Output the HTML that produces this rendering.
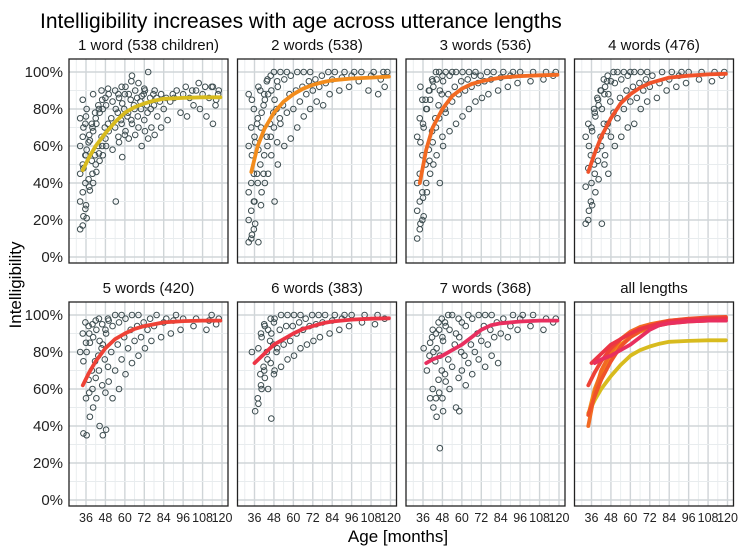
<!DOCTYPE html>
<html><head><meta charset="utf-8">
<style>
html,body{margin:0;padding:0;background:#fff;}
svg{display:block;font-family:"Liberation Sans",Arial,sans-serif;}
</style></head>
<body>
<svg id="chart" width="738" height="548" viewBox="0 0 738 548">
<text x="40" y="28" font-size="21" fill="#000">Intelligibility increases with age across utterance lengths</text>
<text transform="translate(21,285) rotate(-90)" text-anchor="middle" font-size="17">Intelligibility</text>
<text x="398" y="542" text-anchor="middle" font-size="17">Age [months]</text>
</svg>
<script>
const panelTitles = ["1 word (538 children)","2 words (538)","3 words (536)","4 words (476)","5 words (420)","6 words (383)","7 words (368)","all lengths"];
const curveColors = ["#d8bb1e","#f28c1c","#f26a22","#f0522a","#ee4236","#ec3545","#e82f5f"];
const xTicks = [36,48,60,72,84,96,108,120];
const yTicks = [0,20,40,60,80,100];
const yTickLabels = ["0%","20%","40%","60%","80%","100%"];
const curveAges = [
 [34,38,42,48,54,60,66,72,78,84,96,108,119],
 [34,38,42,48,54,60,66,72,78,84,96,108,119],
 [34,38,42,48,54,60,66,72,78,84,96,108,119],
 [34,38,42,48,54,60,66,72,78,84,96,108,119],
 [34,38,42,48,54,60,66,72,78,84,96,108,119],
 [36,42,48,54,60,66,72,78,84,96,108,119],
 [38,42,48,54,60,66,72,78,84,96,108,119]
];
const curveVals = [
 [47,54,60,67,73,78,81,83,84.5,85.5,86,86.3,86.3],
 [46,60,69,78,84,88,91,93,94.5,95.5,96.5,97,97.5],
 [40,58,70,80,87,91,93.5,95,96,97,97.8,98.2,98.5],
 [46,56,65,75,83,88,91.5,94,95.5,97,98,98.7,99],
 [62,69,75,82,87,90,92.5,94,95,96,96.7,97,97],
 [74,79,84,87,90,92.5,94,95.5,96.5,97.5,98,98.2],
 [74,76,78,81,84,88,92,94.5,95.5,96.5,97,97]
];
const scatter1 = [[34,[15,17,26,30,35,40,45,50,55,60,65,72,75,85]],[36,[22,28,42,48,55,62,70,76]],[38,[21,38,52,58,66,72,80]],[40,[36,45,55,63,70,78]],[42,[40,50,60,68,75,82,88]],[44,[46,56,65,72,80,90]],[46,[52,60,70,78,85]],[48,[55,64,72,80,86,91]],[50,[60,68,75,82,88]],[54,[58,70,78,84,90]],[56,[30,65,74,80,88]],[58,[62,72,80,86,92]],[60,[54,66,76,83,88]],[62,[68,78,85,92]],[64,[64,74,82,88,95]],[66,[72,80,86,98]],[68,[66,76,84,90]],[70,[70,80,88,94]],[72,[60,74,82,87,91]],[74,[68,78,86,90]],[76,[64,80,88,100]],[78,[70,82,86]],[80,[66,76,84,90]],[84,[70,80,86,88]],[88,[74,84,88]],[92,[86,90]],[96,[78,88,92]],[100,[76,86,90]],[104,[82,90,94]],[108,[80,88,92]],[112,[76,86,92]],[116,[72,82,88,92]],[118,[85,90]]];
const scatter2 = [[34,[8,10,15,20,25,30,35,40,45,60,70,80,88]],[36,[12,30,45,55,65,72,85]],[38,[18,40,50,62,75,90]],[40,[8,28,45,58,70,82,92]],[42,[35,55,65,78,88,95]],[44,[40,60,72,85,96]],[46,[45,65,78,88,98]],[48,[55,70,80,90,100]],[50,[30,62,75,85,95]],[52,[50,72,82,92,100]],[56,[60,78,88,96,100]],[60,[64,80,90,98]],[64,[70,84,92,100]],[68,[76,88,95,100]],[72,[80,90,96,100]],[76,[84,92,98]],[80,[82,94,100]],[84,[88,96,100]],[90,[90,97,100]],[96,[92,98,100]],[102,[95,100]],[108,[90,98,100]],[114,[88,96,100]],[118,[92,100]]];
const scatter3 = [[34,[10,15,20,25,30,35,40,45,55,65,75,85]],[36,[18,32,50,62,72,85,92]],[38,[22,40,58,70,80,90]],[40,[35,52,68,80,90,96]],[42,[45,62,75,85,95]],[44,[50,70,82,92,100]],[46,[55,75,88,96,100]],[48,[40,65,80,90,98]],[50,[60,78,88,95,100]],[54,[68,84,92,98,100]],[58,[72,88,95,100]],[62,[76,90,96,100]],[66,[80,92,98,100]],[70,[84,94,98,100]],[74,[86,95,100]],[78,[88,96,100]],[84,[90,97,100]],[90,[92,98,100]],[96,[94,100]],[104,[95,100]],[112,[96,100]],[118,[98,100]]];
const scatter4 = [[34,[18,20,30,38,48,55,65,72]],[36,[25,40,50,60,70,80]],[38,[28,45,58,68,78,86]],[40,[35,52,65,76,85,90]],[42,[42,60,72,82,90,96]],[44,[18,50,68,80,88,95]],[46,[55,72,84,92,98]],[48,[45,65,78,88,95,100]],[52,[60,75,86,94,100]],[56,[65,80,90,96,100]],[60,[70,84,92,98,100]],[64,[72,86,94,100]],[68,[80,90,96,100]],[72,[84,92,98,100]],[78,[86,94,100]],[84,[90,96,100]],[90,[92,98,100]],[96,[94,100]],[104,[96,100]],[112,[95,100]],[118,[98,100]]];
const scatter5 = [[34,[80,90,96]],[36,[36,55,65,75,85,94]],[38,[35,58,70,80,90]],[40,[45,60,75,85,95]],[42,[50,66,78,88,97]],[44,[55,70,82,92,98]],[46,[40,62,76,86,95]],[48,[35,58,72,84,92,98]],[50,[38,64,80,90,97]],[54,[55,70,84,94,100]],[58,[60,76,88,96,100]],[62,[68,82,92,98]],[66,[74,86,94,100]],[70,[78,88,96,100]],[74,[82,92,98]],[78,[86,94,100]],[84,[88,96,98]],[90,[90,97,100]],[96,[92,98]],[104,[94,98]],[112,[92,97,100]],[118,[95,98]]];
const scatter6 = [[36,[80]],[38,[48,55,68]],[40,[52,62,72,82,90]],[42,[60,70,80,88,95]],[44,[66,76,86,94]],[46,[60,74,84,92,98]],[48,[44,68,80,90,96]],[50,[70,82,92,98]],[54,[72,84,94,100]],[58,[76,86,94,100]],[62,[78,90,96,100]],[66,[82,92,98,100]],[70,[84,94,100]],[74,[86,95,100]],[78,[88,96,100]],[84,[90,97,100]],[90,[92,98,100]],[96,[94,100]],[104,[96,100]],[112,[95,100]],[118,[98]]];
const scatter7 = [[38,[82]],[40,[70,78,88]],[42,[55,60,75,85,92]],[44,[50,55,65,80,90,96]],[46,[45,58,70,82,92,98]],[48,[28,55,68,78,88,96]],[50,[48,64,76,86,94,100]],[54,[60,72,84,92,100]],[58,[50,66,80,90,98]],[60,[48,70,78,88,96]],[64,[62,74,84,94,100]],[68,[68,80,90,98]],[72,[76,86,94,100]],[76,[72,84,92,100]],[80,[78,88,96,100]],[84,[74,90,98]],[90,[88,94,100]],[96,[92,98,100]],[104,[94,100]],[112,[92,98]],[118,[96,98]]];
const scatterAll = [scatter1,scatter2,scatter3,scatter4,scatter5,scatter6,scatter7];

const NS="http://www.w3.org/2000/svg";
const svg=document.getElementById('chart');
const colLeft=[69,237.5,406,574.5], rowTop=[59,302], PW=159, PH=204;
function mk(tag,attrs,parent){const e=document.createElementNS(NS,tag);for(const k in attrs)e.setAttribute(k,attrs[k]);(parent||svg).appendChild(e);return e;}
function xScale(L,age){return L+17+(age-36)*(136/84);}
function yScale(T,v){return T+PH-6-(v/100)*(PH-19);}

for(let p=0;p<8;p++){
  const L=colLeft[p%4], T=rowTop[Math.floor(p/4)];
  const g=mk('g',{});
  
  
  mk('rect',{x:L,y:T,width:PW,height:PH,fill:'#fff'},g);
  for(let a=30;a<=120;a+=6){const x=xScale(L,a);if(x<L||x>L+PW)continue;
    const ln=mk('line',{x1:x,x2:x,y1:T,y2:T+PH,stroke:(a%12===0)?'#d0d5d8':'#e8ecee','stroke-width':(a%12===0)?1.4:0.9},g);
    }
  for(let v=0;v<=100;v+=10){const y=yScale(T,v);
    const ln=mk('line',{x1:L,x2:L+PW,y1:y,y2:y,stroke:(v%20===0)?'#d0d5d8':'#e8ecee','stroke-width':(v%20===0)?1.4:0.9},g);
    }
  const tt=mk('text',{x:L+PW/2,y:T-9,'text-anchor':'middle','font-size':15,fill:'#111'},g);
  tt.textContent=panelTitles[p];
  
  
  if(p<7){
    scatterAll[p].forEach(grp=>{
      grp[1].forEach((v,i)=>{
        const off=((i%3)-1)*1.6;
        const c=mk('circle',{cx:xScale(L,grp[0]+off),cy:yScale(T,v),r:2.8,fill:'none',stroke:'#3d4d50','stroke-width':1},g);
        
        
      });
    });
  }
  const drawCurve=(k)=>{
    const d=curveAges[k].map((a,i)=>(i?'L':'M')+xScale(L,a).toFixed(1)+','+yScale(T,curveVals[k][i]).toFixed(1)).join(' ');
    const c=mk('path',{d:d,fill:'none',stroke:curveColors[k],'stroke-width':3.8,'stroke-linejoin':'round','stroke-linecap':'round'},g);
    
    
  };
  if(p<7) drawCurve(p); else for(let k=0;k<7;k++) drawCurve(k);
  const fr=mk('rect',{x:L,y:T,width:PW,height:PH,fill:'none',stroke:'#222','stroke-width':1.3},g);
  
  
  if(p%4===0){
    yTicks.forEach((v,i)=>{const t=mk('text',{x:L-6,y:yScale(T,v)+5,'text-anchor':'end','font-size':15,fill:'#222'});
      t.textContent=yTickLabels[i];
      
      });
  }
  if(p>=4){
    xTicks.forEach(a=>{const t=mk('text',{x:xScale(L,a),y:T+PH+16,'text-anchor':'middle','font-size':12.5,fill:'#222'});
      t.textContent=a;
      
      });
  }
}
</script>
</body></html>
